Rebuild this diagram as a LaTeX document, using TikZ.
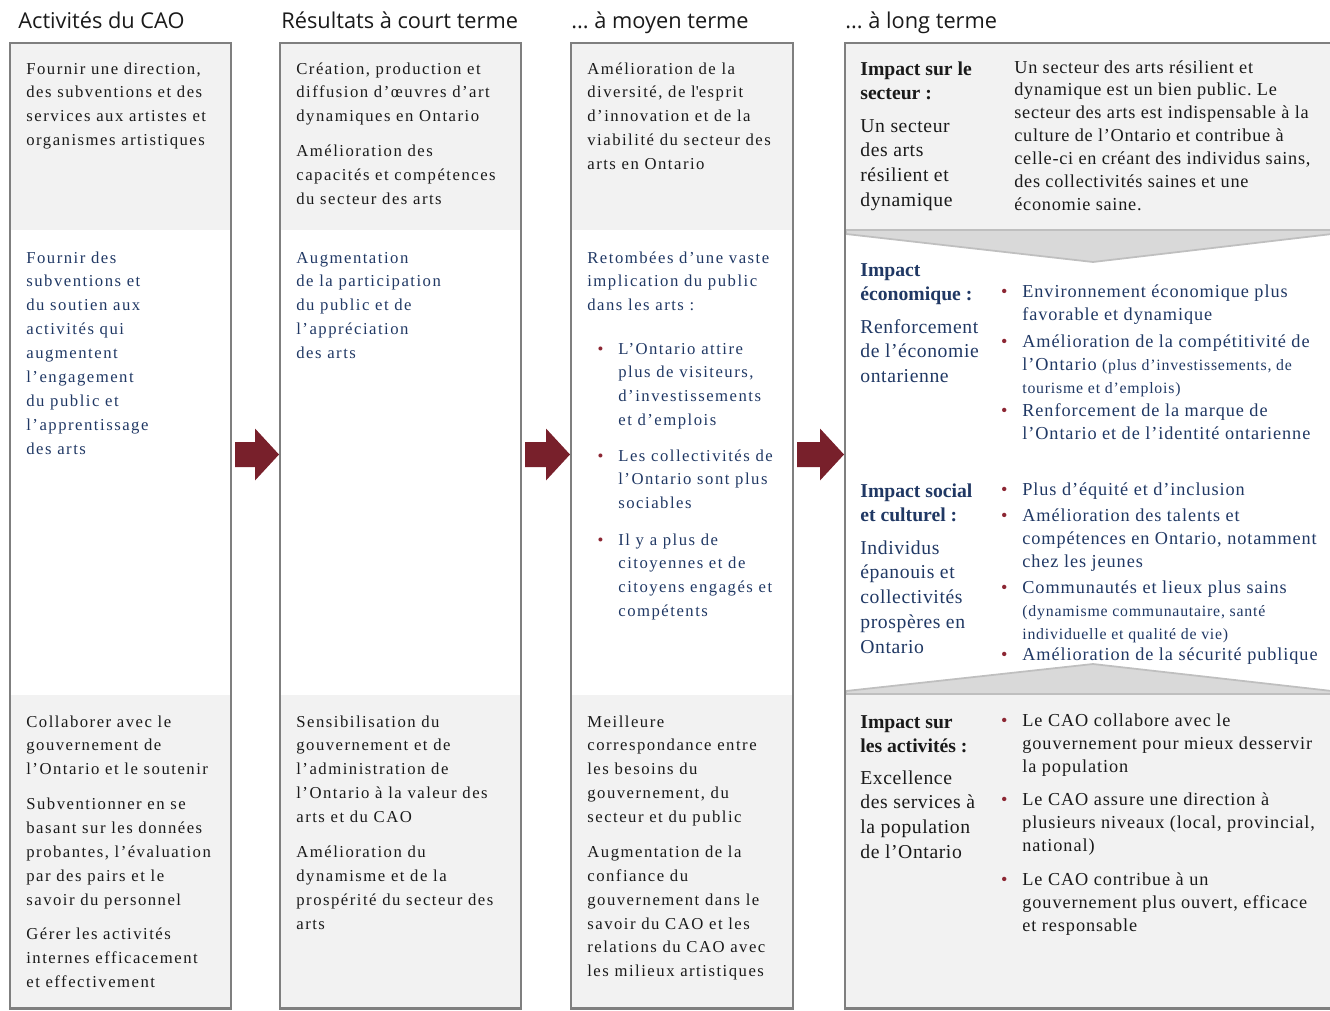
\documentclass[tikz,border=0pt]{standalone}
\usepackage{fontspec}
\setmainfont{Liberation Serif}
\newfontfamily\headfont{Open Sans}
\newfontfamily\bodyfont{Liberation Serif}[LetterSpace=9]
\newfontfamily\itemfont{Liberation Serif}[LetterSpace=5]
\newfontfamily\sidefont{Liberation Serif}[LetterSpace=3]
\newfontfamily\leadfont{Liberation Serif}[LetterSpace=4]
\usepackage{xcolor}
\usetikzlibrary{fit,calc}
\frenchspacing
\definecolor{panel}{HTML}{F2F2F2}
\definecolor{framegray}{HTML}{7F7F7F}
\definecolor{chevfill}{HTML}{D9D9D9}
\definecolor{chevline}{HTML}{BFBFBF}
\definecolor{navy}{HTML}{203864}
\definecolor{darktext}{HTML}{1A1A1A}
\definecolor{arrowred}{HTML}{78202B}
\definecolor{bulred}{HTML}{8C2633}
\newcommand{\bul}{\makebox[0pt][r]{\textcolor{bulred}{\textbullet}\hspace{8.5pt}}}
\newcommand{\sm}{\fontsize{9}{11}\selectfont}
\newcommand{\lines}[1]{\begin{tabular}[t]{@{}l@{}}#1\end{tabular}}
\newcommand{\bigarrow}[2]{
    \fill[arrowred] ($(#1.east |- mid)+(4,-12.5)$) -- ($(#2.west |- mid)+(-25,-12.5)$) -- ($(#2.west |- mid)+(-25,-26)$) -- ($(#2.west |- mid)+(-1,0)$) -- ($(#2.west |- mid)+(-25,26)$) -- ($(#2.west |- mid)+(-25,12.5)$) -- ($(#1.east |- mid)+(4,12.5)$) -- cycle;
}
\tikzset{
    colframe/.style={draw=framegray, line width=1.7pt, inner sep=0pt, outer sep=0pt},
    chevron/.style={fill=chevfill, draw=chevline, line width=1pt, line join=round},
    txt/.style={anchor=base west, inner sep=0pt},
    coltitle/.style={txt, font=\headfont\fontsize{12.4}{15}\selectfont, text=darktext},
    body/.style={txt, font=\bodyfont\fontsize{9.5}{13.6}\selectfont, text=darktext},
    bodyblue/.style={body, text=navy},
    lbl/.style={txt, font=\bfseries\fontsize{11.2}{14.2}\selectfont},
    side/.style={txt, font=\sidefont\fontsize{11.2}{14.2}\selectfont},
    lead/.style={txt, font=\leadfont\fontsize{10.4}{13}\selectfont, text=darktext},
    item/.style={txt, font=\itemfont\fontsize{10.4}{13.2}\selectfont}
}
\begin{document}
\begin{tikzpicture}[x=0.02cm,y=-0.02cm]
\useasboundingbox (0,0) rectangle (1330,1011);
\foreach \xa/\xb in {10/231,280/521,571/793}{
    \fill[panel] (\xa,43) rectangle (\xb,230);
    \fill[panel] (\xa,695) rectangle (\xb,1008);
}
\fill[panel] (845,43) rectangle (1330,229);
\fill[panel] (845,694) rectangle (1330,1008);
\filldraw[chevron] (846,230) -- (1332,230) -- (1332,234) -- (1093,262) -- (846,234) -- cycle;
\filldraw[chevron] (846,694) -- (846,691) -- (1093,664) -- (1332,691) -- (1332,694) -- cycle;
\node[colframe, fit={(10,43) (231,1008)}] (act) {};
\node[colframe, fit={(280,43) (521,1008)}] (court) {};
\node[colframe, fit={(571,43) (793,1008)}] (moyen) {};
\node[inner sep=0pt, outer sep=0pt, fit={(845,43) (1330,1008)}] (long) {};
\draw[framegray, line width=1.7pt] ($(long.north east)+(5,0)$) -- (long.north west) -- (long.south west) -- ($(long.south east)+(5,0)$);
\coordinate (mid) at (0,454.5);
\foreach \a/\b in {act/court,court/moyen,moyen/long}{
    \bigarrow{\a}{\b}
}
\node[coltitle] (tact) at (18,28) {Activités du CAO};
\node[coltitle] (tcourt) at (281,28) {Résultats à court terme};
\node[coltitle] (tmoyen) at (571,28) {... à moyen terme};
\node[coltitle] (tlong) at (845,28) {... à long terme};
\node[body] (act1) at (26,74) {\lines{Fournir une direction,\\des subventions et des\\services aux artistes et\\organismes artistiques}};
\node[bodyblue] (act2) at (26,263) {\lines{Fournir des\\subventions et\\du soutien aux\\activités qui\\augmentent\\l’engagement\\du public et\\l’apprentissage\\des arts}};
\node[body] (act3) at (26,727) {\lines{Collaborer avec le\\gouvernement de\\l’Ontario et le soutenir\\[6.2pt]Subventionner en se\\basant sur les données\\probantes, l’évaluation\\par des pairs et le\\savoir du personnel\\[6.2pt]Gérer les activités\\internes efficacement\\et effectivement}};
\node[body] (court1) at (296,74) {\lines{Création, production et\\diffusion d’œuvres d’art\\dynamiques en Ontario\\[6.2pt]Amélioration des\\capacités et compétences\\du secteur des arts}};
\node[bodyblue] (court2) at (296,263) {\lines{Augmentation\\de la participation\\du public et de\\l’appréciation\\des arts}};
\node[body] (court3) at (296,727) {\lines{Sensibilisation du\\gouvernement et de\\l’administration de\\l’Ontario à la valeur des\\arts et du CAO\\[6.2pt]Amélioration du\\dynamisme et de la\\prospérité du secteur des\\arts}};
\node[body] (moyen1) at (587,74) {\lines{Amélioration de la\\diversité, de l\textquotesingle esprit\\d’innovation et de la\\viabilité du secteur des\\arts en Ontario}};
\node[bodyblue] (moyen2) at (587,263) {\lines{Retombées d’une vaste\\implication du public\\dans les arts :}};
\foreach \y/\t[count=\i] in {354/{L’Ontario attire\\plus de visiteurs,\\d’investissements\\et d’emplois}, 461/{Les collectivités de\\l’Ontario sont plus\\sociables}, 545/{Il y a plus de\\citoyennes et de\\citoyens engagés et\\compétents}}{
    \node[bodyblue] (mb\i) at (618,\y) {\lines{\bul\t}};
}
\node[body] (moyen3) at (587,727) {\lines{Meilleure\\correspondance entre\\les besoins du\\gouvernement, du\\secteur et du public\\[6.2pt]Augmentation de la\\confiance du\\gouvernement dans le\\savoir du CAO et les\\relations du CAO avec\\les milieux artistiques}};
\node[lbl, text=darktext] (secl) at (860,75) {\lines{Impact sur le\\secteur :}};
\node[side, text=darktext] (secs) at (860,132) {\lines{Un secteur\\des arts\\résilient et\\dynamique}};
\node[lead] (sect) at (1014,73) {\lines{Un secteur des arts résilient et\\dynamique est un bien public. Le\\secteur des arts est indispensable à la\\culture de l’Ontario et contribue à\\celle-ci en créant des individus sains,\\des collectivités saines et une\\économie saine.}};
\node[lbl, text=navy] (ecol) at (860,276) {\lines{Impact\\économique :}};
\node[side, text=navy] (ecos) at (860,333) {\lines{Renforcement\\de l’économie\\ontarienne}};
\foreach \y/\t[count=\i] in {297/{Environnement économique plus\\favorable et dynamique}, 347/{Amélioration de la compétitivité de\\l’Ontario {\sm (plus d’investissements, de}\\{\sm tourisme et d’emplois)}}, 416/{Renforcement de la marque de\\l’Ontario et de l’identité ontarienne}}{
    \node[item, text=navy] (eco\i) at (1022,\y) {\lines{\bul\t}};
}
\node[lbl, text=navy] (socl) at (860,497) {\lines{Impact social\\et culturel :}};
\node[side, text=navy] (socs) at (860,554) {\lines{Individus\\épanouis et\\collectivités\\prospères en\\Ontario}};
\foreach \y/\t[count=\i] in {495/{Plus d’équité et d’inclusion}, 521/{Amélioration des talents et\\compétences en Ontario, notamment\\chez les jeunes}, 593/{Communautés et lieux plus sains\\{\sm (dynamisme communautaire, santé}\\{\sm individuelle et qualité de vie)}}, 660/{Amélioration de la sécurité publique}}{
    \node[item, text=navy] (soc\i) at (1022,\y) {\lines{\bul\t}};
}
\node[lbl, text=darktext] (opsl) at (860,728) {\lines{Impact sur\\les activités :}};
\node[side, text=darktext] (opss) at (860,784) {\lines{Excellence\\des services à\\la population\\de l’Ontario}};
\foreach \y/\t[count=\i] in {726/{Le CAO collabore avec le\\gouvernement pour mieux desservir\\la population}, 805/{Le CAO assure une direction à\\plusieurs niveaux (local, provincial,\\national)}, 885/{Le CAO contribue à un\\gouvernement plus ouvert, efficace\\et responsable}}{
    \node[item, text=darktext] (ops\i) at (1022,\y) {\lines{\bul\t}};
}
\end{tikzpicture}
\end{document}
